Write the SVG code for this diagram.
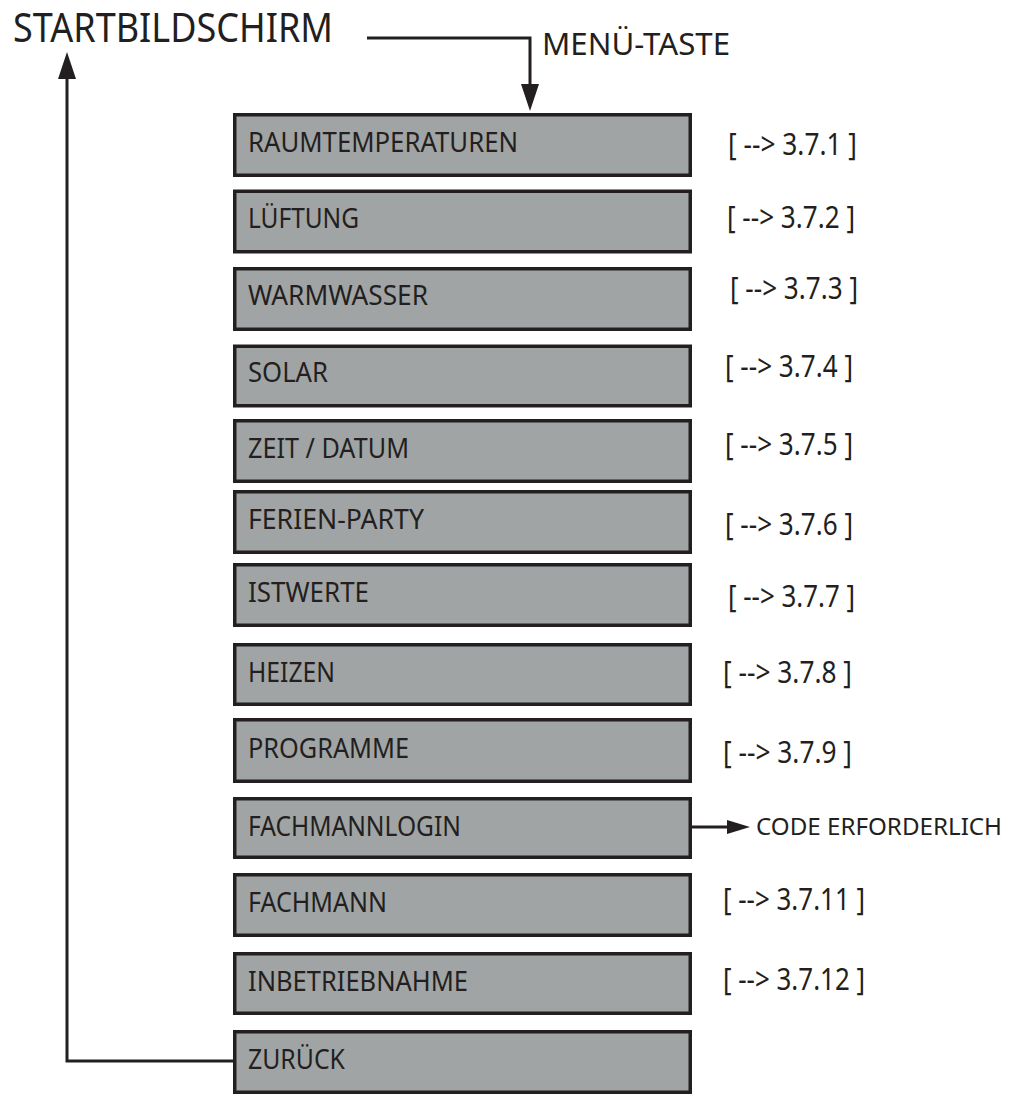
<svg xmlns="http://www.w3.org/2000/svg" width="1015" height="1102" viewBox="0 0 1015 1102">
<style>
  .box { fill: #a1a4a4; stroke: #231f20; stroke-width: 3.5; }
  .lbl { font-family: "Noto Sans", "Open Sans", sans-serif; font-size: 27.5px; fill: #231f20; }
  .ref { font-family: "Noto Sans", "Open Sans", sans-serif; font-size: 30px; fill: #231f20; }
  .big { font-family: "Noto Sans", "Open Sans", sans-serif; fill: #231f20; }
  .conn { fill: none; stroke: #231f20; stroke-width: 3; }
</style>
<defs>
  <marker id="arrowL" markerUnits="userSpaceOnUse" markerWidth="27" markerHeight="18" refX="0" refY="9" orient="auto">
    <path d="M0,0 L27,9 L0,18 Z" fill="#231f20"/>
  </marker>
  <marker id="arrowS" markerUnits="userSpaceOnUse" markerWidth="23" markerHeight="14" refX="0" refY="7" orient="auto">
    <path d="M0,0 L23,7 L0,14 Z" fill="#231f20"/>
  </marker>
</defs>
<rect width="1015" height="1102" fill="#ffffff"/>

<g id="startbildschirm">
  <text class="big" x="13" y="42" font-size="40" textLength="320" lengthAdjust="spacingAndGlyphs">STARTBILDSCHIRM</text>
</g>
<g id="menue-taste">
  <text class="big" x="542" y="55" font-size="31" textLength="188" lengthAdjust="spacingAndGlyphs">MENÜ-TASTE</text>
</g>

<g id="connectors">
  <path class="conn" d="M367 38 H530 V84" marker-end="url(#arrowL)"/>
  <path class="conn" d="M233 1061 H67 V79" marker-end="url(#arrowL)"/>
  <path class="conn" d="M692 827 H727" marker-end="url(#arrowS)"/>
</g>

<g id="n-raumtemperaturen">
  <rect class="box" x="234.75" y="114.75" width="455.5" height="60.5"/>
  <text class="lbl" x="248" y="152" textLength="270" lengthAdjust="spacingAndGlyphs">RAUMTEMPERATUREN</text>
  <text class="ref" x="728" y="155" textLength="129" lengthAdjust="spacingAndGlyphs">[ --&gt; 3.7.1 ]</text>
</g>
<g id="n-lueftung">
  <rect class="box" x="234.75" y="191.25" width="455.5" height="60.5"/>
  <text class="lbl" x="248" y="228" textLength="111" lengthAdjust="spacingAndGlyphs">LÜFTUNG</text>
  <text class="ref" x="727" y="228" textLength="128" lengthAdjust="spacingAndGlyphs">[ --&gt; 3.7.2 ]</text>
</g>
<g id="n-warmwasser">
  <rect class="box" x="234.75" y="268.75" width="455.5" height="60.5"/>
  <text class="lbl" x="248" y="305" textLength="180" lengthAdjust="spacingAndGlyphs">WARMWASSER</text>
  <text class="ref" x="730" y="299" textLength="128" lengthAdjust="spacingAndGlyphs">[ --&gt; 3.7.3 ]</text>
</g>
<g id="n-solar">
  <rect class="box" x="234.75" y="346.25" width="455.5" height="59.5"/>
  <text class="lbl" x="248" y="382" textLength="80" lengthAdjust="spacingAndGlyphs">SOLAR</text>
  <text class="ref" x="725" y="377" textLength="128" lengthAdjust="spacingAndGlyphs">[ --&gt; 3.7.4 ]</text>
</g>
<g id="n-zeit-datum">
  <rect class="box" x="234.75" y="420.75" width="455.5" height="60.5"/>
  <text class="lbl" x="248" y="458" textLength="161" lengthAdjust="spacingAndGlyphs">ZEIT / DATUM</text>
  <text class="ref" x="725" y="455" textLength="128" lengthAdjust="spacingAndGlyphs">[ --&gt; 3.7.5 ]</text>
</g>
<g id="n-ferien-party">
  <rect class="box" x="234.75" y="491.75" width="455.5" height="60.5"/>
  <text class="lbl" x="248" y="529" textLength="176" lengthAdjust="spacingAndGlyphs">FERIEN-PARTY</text>
  <text class="ref" x="725" y="535" textLength="128" lengthAdjust="spacingAndGlyphs">[ --&gt; 3.7.6 ]</text>
</g>
<g id="n-istwerte">
  <rect class="box" x="234.75" y="564.75" width="455.5" height="60.5"/>
  <text class="lbl" x="248" y="602" textLength="121" lengthAdjust="spacingAndGlyphs">ISTWERTE</text>
  <text class="ref" x="728" y="607" textLength="127" lengthAdjust="spacingAndGlyphs">[ --&gt; 3.7.7 ]</text>
</g>
<g id="n-heizen">
  <rect class="box" x="234.75" y="644.75" width="455.5" height="59.5"/>
  <text class="lbl" x="248" y="682" textLength="87" lengthAdjust="spacingAndGlyphs">HEIZEN</text>
  <text class="ref" x="723" y="683" textLength="129" lengthAdjust="spacingAndGlyphs">[ --&gt; 3.7.8 ]</text>
</g>
<g id="n-programme">
  <rect class="box" x="234.75" y="719.75" width="455.5" height="61.5"/>
  <text class="lbl" x="248" y="758" textLength="161" lengthAdjust="spacingAndGlyphs">PROGRAMME</text>
  <text class="ref" x="723" y="763" textLength="129" lengthAdjust="spacingAndGlyphs">[ --&gt; 3.7.9 ]</text>
</g>
<g id="n-fachmannlogin">
  <rect class="box" x="234.75" y="798.75" width="455.5" height="58.5"/>
  <text class="lbl" x="248" y="836" textLength="213" lengthAdjust="spacingAndGlyphs">FACHMANNLOGIN</text>
</g>
<g id="n-code-erforderlich">
  <text class="big" x="756" y="835" font-size="24" textLength="246" lengthAdjust="spacingAndGlyphs">CODE ERFORDERLICH</text>
</g>
<g id="n-fachmann">
  <rect class="box" x="234.75" y="874.75" width="455.5" height="60.5"/>
  <text class="lbl" x="248" y="912" textLength="139" lengthAdjust="spacingAndGlyphs">FACHMANN</text>
  <text class="ref" x="723" y="910" textLength="142" lengthAdjust="spacingAndGlyphs">[ --&gt; 3.7.11 ]</text>
</g>
<g id="n-inbetriebnahme">
  <rect class="box" x="234.75" y="953.75" width="455.5" height="59.5"/>
  <text class="lbl" x="248" y="991" textLength="220" lengthAdjust="spacingAndGlyphs">INBETRIEBNAHME</text>
  <text class="ref" x="723" y="990" textLength="142" lengthAdjust="spacingAndGlyphs">[ --&gt; 3.7.12 ]</text>
</g>
<g id="n-zurueck">
  <rect class="box" x="234.75" y="1031.75" width="455.5" height="60.5"/>
  <text class="lbl" x="248" y="1069" textLength="97" lengthAdjust="spacingAndGlyphs">ZURÜCK</text>
</g>
</svg>
